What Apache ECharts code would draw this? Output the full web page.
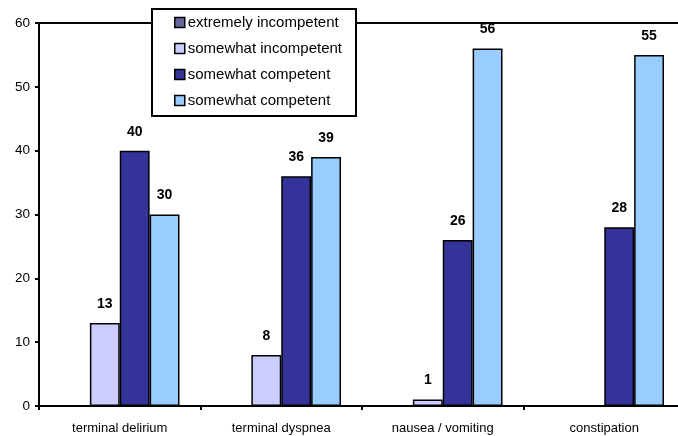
<!DOCTYPE html>
<html>
<head>
<meta charset="utf-8">
<script src="https://cdn.jsdelivr.net/npm/echarts@6/dist/echarts.min.js"></script>
<style>
  html, body { margin: 0; padding: 0; background: #fff; overflow: hidden; }
  #chart { width: 685px; height: 436px; }
</style>
</head>
<body>
<div id="chart"></div>
<script>
// Symptom categories along the x axis
const categories = ['terminal delirium', 'terminal dyspnea', 'nausea / vomiting', 'constipation'];

// Respondent counts per competence level
const extremelyIncompetent = [0, 0, 0, 0];
const somewhatIncompetent = [13, 8, 1, 0];
const somewhatCompetent = [40, 36, 26, 28];
const somewhatCompetent2 = [30, 39, 56, 55];

// Legend texts (the last two read the same; ids keep them apart)
const seriesLabels = ['extremely incompetent', 'somewhat incompetent', 'somewhat competent', 'somewhat competent'];
const seriesIds = ['s0', 's1', 's2', 's3'];
const seriesColors = ['#666699', '#CCCCFF', '#333399', '#99CCFF'];
const seriesValues = [extremelyIncompetent, somewhatIncompetent, somewhatCompetent, somewhatCompetent2];

// Y axis range
const yMin = 0, yMax = 60, yStep = 10;

const font = 'Liberation Sans, Arial, sans-serif';
const labelOf = Object.fromEntries(seriesIds.map((id, i) => [id, seriesLabels[i]]));

const chart = echarts.init(document.getElementById('chart'), null, { renderer: 'canvas' });

const series = seriesValues.map((vals, i) => ({
  name: seriesIds[i],
  type: 'bar',
  data: vals,
  barGap: '0%',
  barCategoryGap: '26%',
  itemStyle: { color: seriesColors[i], borderColor: '#000', borderWidth: 1.5 },
  label: {
    show: true,
    position: 'top',
    distance: 12,
    color: '#000',
    fontFamily: font,
    fontWeight: 'bold',
    fontSize: 14,
    formatter: p => (p.value ? String(p.value) : '')
  },
  emphasis: { disabled: true }
}));

chart.setOption({
  animation: false,
  backgroundColor: '#fff',
  grid: {
    left: 39, right: 0, top: 23, bottom: 30,
    show: true, borderColor: '#000', borderWidth: 2, backgroundColor: 'transparent'
  },
  legend: {
    orient: 'vertical',
    left: 152, top: 9,
    padding: [6, 14, 8, 22],
    itemGap: 11,
    itemWidth: 10, itemHeight: 10,
    backgroundColor: '#fff',
    borderColor: '#000', borderWidth: 2,
    borderRadius: 0,
    icon: 'rect',
    itemStyle: { borderColor: '#000', borderWidth: 1.5 },
    textStyle: { color: '#000', fontFamily: font, fontSize: 15, padding: [0, 0, 0, -2] },
    formatter: id => labelOf[id],
    z: 10,
    data: seriesIds.map((id, i) => ({ name: id, itemStyle: { color: seriesColors[i] } }))
  },
  xAxis: {
    type: 'category',
    data: categories,
    axisLine: { lineStyle: { color: '#000', width: 2 } },
    axisTick: { show: true, length: 4, lineStyle: { color: '#000', width: 2 } },
    axisLabel: { color: '#000', fontFamily: font, fontSize: 13, margin: 16 },
    splitLine: { show: false }
  },
  yAxis: {
    type: 'value',
    min: yMin, max: yMax, interval: yStep,
    axisLine: { show: true, lineStyle: { color: '#000', width: 2 } },
    axisTick: { show: true, length: 4, lineStyle: { color: '#000', width: 2 } },
    axisLabel: { color: '#000', fontFamily: font, fontSize: 13.5, margin: 9 },
    splitLine: { show: false }
  },
  series: series
});
</script>
</body>
</html>
